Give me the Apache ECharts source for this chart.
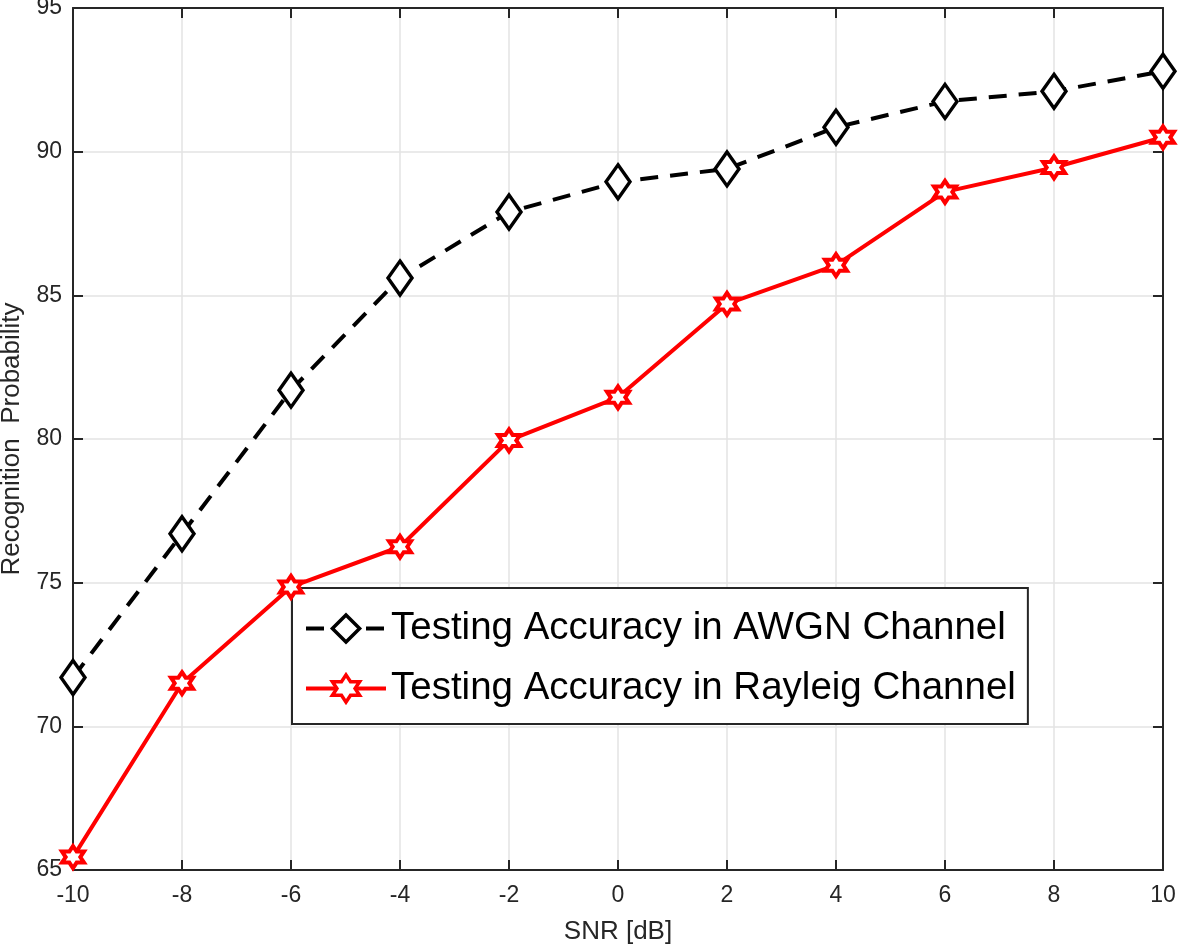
<!DOCTYPE html>
<html><head><meta charset="utf-8">
<script src="https://cdn.jsdelivr.net/npm/echarts@6/dist/echarts.min.js"></script>
<style>html,body{margin:0;padding:0;background:#fff}#c{width:1179px;height:947px}</style>
</head><body><div id="c"></div>
<script>
const snr = [-10, -8, -6, -4, -2, 0, 2, 4, 6, 8, 10];
const awgn = [71.7, 76.7, 81.7, 85.6, 87.9, 88.95, 89.4, 90.85, 91.75, 92.1, 92.8];
const rayleigh = [65.45, 71.5, 74.85, 76.25, 79.95, 81.45, 84.7, 86.05, 88.6, 89.45, 90.5];
const seriesNames = ['Testing Accuracy in AWGN Channel', 'Testing Accuracy in Rayleig Channel'];
const xName = 'SNR [dB]';
const yName = 'Recognition  Probability';

const hexagram = 'path://M0,-10L2.887,-5L8.66,-5L5.77,0L8.66,5L2.887,5L0,10L-2.887,5L-8.66,5L-5.77,0L-8.66,-5L-2.887,-5Z';
const axisColor = '#262626';
const font = 'Liberation Sans, Arial, sans-serif';

const chart = echarts.init(document.getElementById('c'), null, {renderer: 'canvas'});
const axisCommon = {
  axisLine: {show: true, onZero: false, lineStyle: {color: axisColor, width: 2}},
  axisTick: {show: true, inside: true, length: 10, lineStyle: {color: axisColor, width: 2}},
};
chart.setOption({
  animation: false,
  backgroundColor: '#fff',
  grid: {left: 73, right: 16, top: 8, bottom: 77, containLabel: false, outerBoundsMode: 'none'},
  legend: {
    left: 292, top: 588, orient: 'vertical',
    backgroundColor: '#fff', borderColor: axisColor, borderWidth: 2,
    padding: [21, 12, 16, 12], itemGap: 21, itemWidth: 80, itemHeight: 34,
    lineStyle: {width: 4},
    itemStyle: {borderWidth: 3.5},
    textStyle: {fontFamily: font, fontSize: 38.5, color: '#000', padding: [0, 0, 0, 0]},
    data: seriesNames
  },
  xAxis: [
    Object.assign({type: 'value', min: -10, max: 10, interval: 2, position: 'bottom',
      name: xName, nameLocation: 'middle', nameGap: 49,
      nameTextStyle: {fontFamily: font, fontSize: 26, color: axisColor},
      axisLabel: {fontFamily: font, fontSize: 23, color: axisColor, margin: 14},
      splitLine: {show: true, lineStyle: {color: '#e3e3e3', width: 1.5}}}, axisCommon),
    Object.assign({type: 'value', min: -10, max: 10, interval: 2, position: 'top',
      axisLabel: {show: false}, splitLine: {show: false}}, axisCommon)
  ],
  yAxis: [
    Object.assign({type: 'value', min: 65, max: 95, interval: 5, position: 'left',
      name: yName, nameLocation: 'middle', nameGap: 48, nameRotate: 90,
      nameTextStyle: {fontFamily: font, fontSize: 26, color: axisColor},
      axisLabel: {fontFamily: font, fontSize: 23, color: axisColor, margin: 11},
      splitLine: {show: true, lineStyle: {color: '#e3e3e3', width: 1.5}}}, axisCommon),
    Object.assign({type: 'value', min: 65, max: 95, interval: 5, position: 'right',
      axisLabel: {show: false}, splitLine: {show: false}}, axisCommon)
  ],
  series: [
    {
      name: seriesNames[0], type: 'line', data: snr.map((x, i) => [x, awgn[i]]),
      symbol: 'diamond', symbolSize: [24, 34], z: 3,
      lineStyle: {color: '#000', width: 4, type: [18, 12]},
      itemStyle: {color: '#fff', borderColor: '#000', borderWidth: 3.5}
    },
    {
      name: seriesNames[1], type: 'line', data: snr.map((x, i) => [x, rayleigh[i]]),
      symbol: hexagram, symbolSize: 22, z: 4,
      lineStyle: {color: '#ff0000', width: 4},
      itemStyle: {color: '#fff', borderColor: '#ff0000', borderWidth: 4}
    }
  ]
});
</script></body></html>
